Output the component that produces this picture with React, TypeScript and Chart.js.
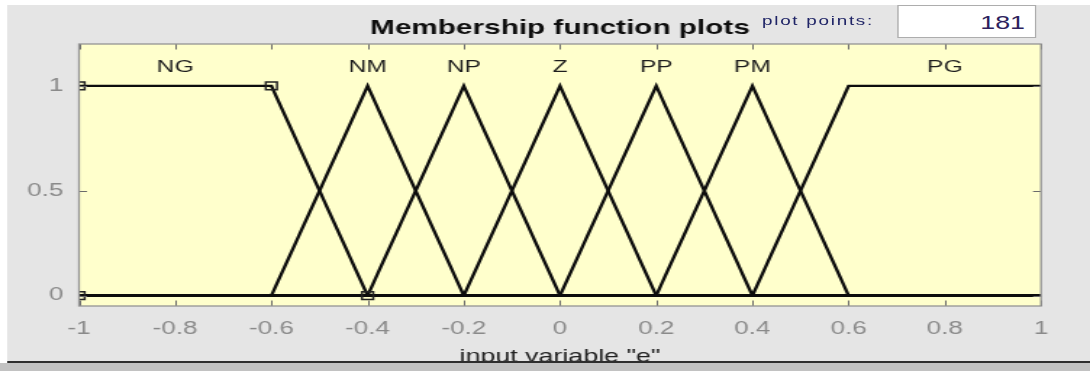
import React, { useEffect, useRef } from 'react';
import { Chart, registerables } from 'chart.js';

Chart.register(...registerables);

// ---------------- data ----------------
const xTickValues = [-1, -0.8, -0.6, -0.4, -0.2, 0, 0.2, 0.4, 0.6, 0.8, 1];
const xTickLabels = ['-1', '-0.8', '-0.6', '-0.4', '-0.2', '0', '0.2', '0.4', '0.6', '0.8', '1'];
const yTickValues = [0, 0.5, 1];
const yTickLabels = ['0', '0.5', '1'];

const mfNames = ['NG', 'NM', 'NP', 'Z', 'PP', 'PM', 'PG'];
const mfLabelX = [-0.8, -0.4, -0.2, 0, 0.2, 0.4, 0.8];
const mfLabelY = 1.088;

const ngX = [-1, -0.6, -0.4, 1];
const ngY = [1, 1, 0, 0];
const nmX = [-1, -0.6, -0.4, -0.2, 1];
const nmY = [0, 0, 1, 0, 0];
const npX = [-1, -0.4, -0.2, 0, 1];
const npY = [0, 0, 1, 0, 0];
const zX = [-1, -0.2, 0, 0.2, 1];
const zY = [0, 0, 1, 0, 0];
const ppX = [-1, 0, 0.2, 0.4, 1];
const ppY = [0, 0, 1, 0, 0];
const pmX = [-1, 0.2, 0.4, 0.6, 1];
const pmY = [0, 0, 1, 0, 0];
const pgX = [-1, 0.4, 0.6, 1];
const pgY = [0, 0, 1, 1];

const markerX = [-1, -1, -0.6, -0.4];
const markerY = [0, 1, 1, 0];

const TITLE = 'Membership function plots';
const X_TITLE = 'input variable "e"';
const PLOT_POINTS_LABEL = 'plot points:';
const PLOT_POINTS_VALUE = '181';

// ---------------- layout / style ----------------
const CANVAS_W = 752;
const CANVAS_H = 371;
const STRETCH = 1090 / CANVAS_W;
const FONT = '"Liberation Sans", Arial, Helvetica, sans-serif';
const PLOT_BG = '#ffffcc';
const PANEL_BG = '#e5e5e5';
const TICK_LEN = 5.5;

const toPts = (xs: number[], ys: number[]) => xs.map((x, i) => ({ x, y: ys[i] }));

const decorPlugin = {
  id: 'mfDecor',
  beforeDraw(chart: any) {
    const { ctx, chartArea: a } = chart;
    ctx.save();
    ctx.fillStyle = PLOT_BG;
    ctx.fillRect(a.left, a.top, a.right - a.left, a.bottom - a.top);
    ctx.restore();
  },
  afterDraw(chart: any) {
    const { ctx, chartArea: a, scales } = chart;
    const xs = scales.x;
    const ys = scales.y;
    ctx.save();
    // inner tick marks
    ctx.strokeStyle = '#6a6a6a';
    ctx.lineWidth = 1;
    ctx.beginPath();
    xTickValues.forEach((v) => {
      const px = Math.round(xs.getPixelForValue(v)) + 0.5;
      ctx.moveTo(px, a.top);
      ctx.lineTo(px, a.top + TICK_LEN);
      ctx.moveTo(px, a.bottom);
      ctx.lineTo(px, a.bottom - TICK_LEN);
    });
    yTickValues.forEach((v) => {
      const py = Math.round(ys.getPixelForValue(v)) + 0.5;
      ctx.moveTo(a.left, py);
      ctx.lineTo(a.left + TICK_LEN, py);
      ctx.moveTo(a.right, py);
      ctx.lineTo(a.right - TICK_LEN, py);
    });
    ctx.stroke();
    // axes box
    ctx.strokeStyle = '#949494';
    ctx.lineWidth = 1.3;
    ctx.strokeRect(a.left, a.top, a.right - a.left, a.bottom - a.top);
    // membership function labels
    ctx.fillStyle = '#1e1e1e';
    ctx.font = '17px ' + FONT;
    ctx.textAlign = 'center';
    ctx.textBaseline = 'middle';
    mfNames.forEach((n, i) => {
      ctx.fillText(n, xs.getPixelForValue(mfLabelX[i]), ys.getPixelForValue(mfLabelY));
    });
    // title
    ctx.fillStyle = '#0e0e0e';
    ctx.font = 'bold 20.5px ' + FONT;
    ctx.fillText(TITLE, (a.left + a.right) / 2, a.top - 15.4);
    ctx.restore();
  },
};

export default function App() {
  const canvasRef = useRef<HTMLCanvasElement | null>(null);

  useEffect(() => {
    document.body.style.margin = '0';
    document.body.style.overflow = 'hidden';
    const canvas = canvasRef.current;
    if (!canvas) return;
    const lineDs = (xs: number[], ys: number[], label: string) => ({
      label,
      data: toPts(xs, ys),
      showLine: true,
      borderColor: '#0d0d0d',
      borderWidth: 2.4,
      pointRadius: 0,
      fill: false,
      tension: 0,
      order: 2,
    });
    const chart = new Chart(canvas, {
      type: 'scatter',
      data: {
        datasets: [
          {
            label: 'vertices',
            data: toPts(markerX, markerY),
            showLine: false,
            pointStyle: 'rect',
            pointRadius: 5.5,
            pointBorderWidth: 1.5,
            pointBorderColor: '#222222',
            pointBackgroundColor: 'rgba(0,0,0,0)',
            clip: 0,
            order: 1,
          } as any,
          lineDs(ngX, ngY, 'NG'),
          lineDs(nmX, nmY, 'NM'),
          lineDs(npX, npY, 'NP'),
          lineDs(zX, zY, 'Z'),
          lineDs(ppX, ppY, 'PP'),
          lineDs(pmX, pmY, 'PM'),
          lineDs(pgX, pgY, 'PG'),
        ],
      },
      options: {
        animation: false,
        responsive: false,
        devicePixelRatio: 1,
        events: [],
        layout: { padding: { top: 44, right: 33.81, bottom: 0, left: 0 } },
        plugins: {
          legend: { display: false },
          tooltip: { enabled: false },
          title: { display: false },
        },
        scales: {
          x: {
            type: 'linear',
            min: -1,
            max: 1,
            afterBuildTicks: (s: any) => {
              s.ticks = xTickValues.map((v) => ({ value: v }));
            },
            afterFit: (s: any) => {
              s.height = 65;
            },
            grid: { display: false, drawTicks: false },
            border: { display: false },
            ticks: {
              autoSkip: false,
              maxRotation: 0,
              padding: 12,
              color: '#8a8a8a',
              font: { family: FONT, size: 18 },
              callback: (_v: any, i: number) => xTickLabels[i],
            },
            title: {
              display: true,
              text: X_TITLE,
              color: '#222222',
              font: { family: FONT, size: 18.5 },
              padding: { top: 0, bottom: 3.4 },
            },
          },
          y: {
            type: 'linear',
            min: -0.05,
            max: 1.2,
            afterBuildTicks: (s: any) => {
              s.ticks = yTickValues.map((v) => ({ value: v }));
            },
            afterFit: (s: any) => {
              s.width = 54.5;
            },
            grid: { display: false, drawTicks: false },
            border: { display: false },
            ticks: {
              padding: 10.7,
              color: '#8a8a8a',
              font: { family: FONT, size: 18 },
              callback: (_v: any, i: number) => yTickLabels[i],
            },
          },
        },
      } as any,
      plugins: [decorPlugin],
    });
    return () => chart.destroy();
  }, []);

  const sx = (x: number) => x / STRETCH;

  return (
    <div
      style={{
        position: 'absolute',
        left: 0,
        top: 0,
        width: CANVAS_W,
        height: CANVAS_H,
        overflow: 'hidden',
        transform: `scaleX(${STRETCH})`,
        transformOrigin: '0 0',
        background: '#ffffff',
      }}
    >
      <div
        style={{
          position: 'absolute',
          left: sx(7),
          top: 5,
          width: CANVAS_W - sx(7),
          height: 356,
          background: PANEL_BG,
        }}
      />
      <canvas
        ref={canvasRef}
        width={CANVAS_W}
        height={CANVAS_H}
        style={{ position: 'absolute', left: 0, top: 0 }}
      />
      <div
        style={{
          position: 'absolute',
          left: sx(7),
          top: 361,
          width: CANVAS_W - sx(7),
          height: 2,
          background: '#2e2e2e',
        }}
      />
      <div
        style={{
          position: 'absolute',
          left: 0,
          top: 363,
          width: CANVAS_W,
          height: CANVAS_H - 363,
          background: '#c2c2c2',
        }}
      />
      <div
        style={{
          position: 'absolute',
          left: sx(762),
          top: 14,
          fontFamily: FONT,
          fontSize: 13,
          lineHeight: '13px',
          letterSpacing: '1.2px',
          color: '#1f2466',
          whiteSpace: 'nowrap',
        }}
      >
        {PLOT_POINTS_LABEL}
      </div>
      <div
        style={{
          position: 'absolute',
          left: sx(897),
          top: 5,
          width: sx(1036) - sx(897),
          height: 33,
          boxSizing: 'border-box',
          background: '#ffffff',
          border: '1px solid #adadad',
        }}
      />
      <div
        style={{
          position: 'absolute',
          left: sx(897),
          top: 13.5,
          width: sx(1025) - sx(897),
          textAlign: 'right',
          fontFamily: FONT,
          fontSize: 18.5,
          lineHeight: '18.5px',
          color: '#2e1f5e',
          whiteSpace: 'nowrap',
        }}
      >
        {PLOT_POINTS_VALUE}
      </div>
    </div>
  );
}
